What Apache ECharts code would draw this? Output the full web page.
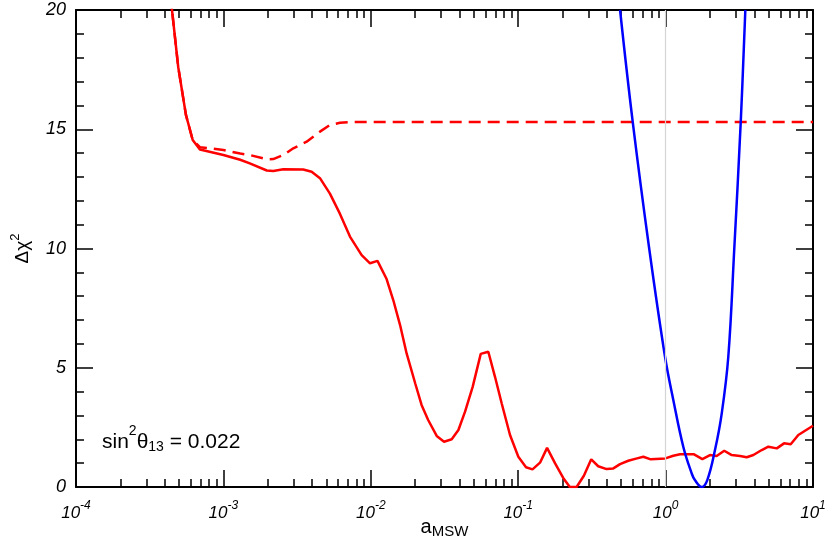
<!DOCTYPE html>
<html>
<head>
<meta charset="utf-8">
<script src="https://cdn.jsdelivr.net/npm/echarts@6/dist/echarts.min.js"></script>
<style>
html,body{margin:0;padding:0;background:#fff;}
#chart{width:830px;height:550px;}
</style>
</head>
<body>
<div id="chart"></div>
<script>
// ---- data (a_MSW, delta chi^2) ----
var aSolid = [3.95e-4, 4.48e-4, 4.94e-4, 5.57e-4, 6.19e-4, 6.93e-4, 1.0e-3, 1.3e-3, 1.51e-3, 1.97e-3, 2.18e-3, 2.55e-3, 3.48e-3, 3.97e-3, 4.52e-3, 5.28e-3, 6.18e-3, 7.22e-3, 8.67e-3, 9.88e-3, 1.11e-2, 1.28e-2, 1.42e-2, 1.58e-2, 1.75e-2, 2.0e-2, 2.21e-2, 2.45e-2, 2.80e-2, 3.14e-2, 3.54e-2, 3.93e-2, 4.36e-2, 4.91e-2, 5.57e-2, 6.27e-2, 6.96e-2, 7.73e-2, 8.80e-2, 0.1002, 0.113, 0.125, 0.1406, 0.157, 0.178, 0.202, 0.224, 0.249, 0.279, 0.313, 0.349, 0.398, 0.442, 0.491, 0.558, 0.64, 0.706, 0.793, 0.996, 1.128, 1.253, 1.559, 1.776, 2.0, 2.22, 2.50, 2.81, 3.20, 3.55, 3.94, 4.49, 4.98, 5.68, 6.36, 7.06, 7.95, 8.83, 10];
var chiSolid = [23, 20, 17.6, 15.6, 14.55, 14.15, 13.92, 13.72, 13.57, 13.27, 13.25, 13.32, 13.31, 13.22, 12.95, 12.3, 11.45, 10.5, 9.72, 9.38, 9.48, 8.72, 7.84, 6.79, 5.6, 4.35, 3.44, 2.81, 2.14, 1.9, 2.0, 2.39, 3.16, 4.2, 5.58, 5.67, 4.62, 3.5, 2.18, 1.27, 0.83, 0.74, 1.02, 1.64, 0.99, 0.38, 0.0, 0.0, 0.47, 1.16, 0.87, 0.75, 0.78, 0.96, 1.1, 1.2, 1.27, 1.16, 1.2, 1.31, 1.37, 1.37, 1.17, 1.34, 1.3, 1.52, 1.34, 1.3, 1.25, 1.34, 1.55, 1.69, 1.62, 1.83, 1.79, 2.18, 2.36, 2.57];

var aDashed = [3.95e-4, 4.48e-4, 4.94e-4, 5.57e-4, 6.19e-4, 6.93e-4, 1.0e-3, 1.3e-3, 1.51e-3, 1.97e-3, 2.18e-3, 2.55e-3, 2.98e-3, 3.67e-3, 4.52e-3, 5.28e-3, 6.18e-3, 7.22e-3, 10];
var chiDashed = [23, 20, 17.6, 15.6, 14.55, 14.25, 14.13, 13.98, 13.92, 13.74, 13.75, 13.92, 14.2, 14.48, 14.9, 15.18, 15.27, 15.3, 15.3];

var aBlue = [0.491, 0.598, 0.774, 0.991, 1.128, 1.318, 1.503, 1.58, 1.758, 1.918, 2.163, 2.404, 2.663, 2.924, 3.235, 3.475];
var chiBlue = [20, 15.32, 10.0, 5.46, 3.65, 1.69, 0.57, 0.29, 0.0, 0.29, 1.55, 3.09, 5.46, 10.0, 15.32, 20];

// ---- axes / labels ----
var xTickValues = [1e-4, 1e-3, 1e-2, 1e-1, 1, 10];
var xTickExponents = ['-4', '-3', '-2', '-1', '0', '1'];
var minorMantissas = [2, 3, 4, 5, 6, 7, 8, 9];
var decadeExponents = [-4, -3, -2, -1, 0];
var yTicks = [0, 5, 10, 15, 20];
var markerA = 1;
var annotation = { lhs: 'sin', sup: '2', theta: 'θ', sub: '13', rhs: ' = 0.022' };

function pairs(xs, ys) { return xs.map(function (x, i) { return [x, ys[i]]; }); }

var minorLogPositions = [];
decadeExponents.forEach(function (e) {
  minorMantissas.forEach(function (m) { minorLogPositions.push(e + Math.log10(m)); });
});

var FONT = '"Liberation Sans", Arial, Helvetica, sans-serif';

function majorX(pos, withLabels) {
  return {
    type: 'log', logBase: 10, position: pos, min: 1e-4, max: 10,
    axisLine: { show: true, onZero: false, lineStyle: { color: '#000', width: 2 } },
    axisTick: { show: true, inside: true, length: 17, lineStyle: { color: '#000', width: 1.5 } },
    minorTick: { show: false },
    splitLine: { show: false },
    axisLabel: withLabels ? {
      show: true, margin: 13, fontFamily: FONT,
      formatter: function (v) {
        var idx = -1;
        xTickValues.forEach(function (t, i) { if (Math.abs(Math.log10(v) - Math.log10(t)) < 1e-6) idx = i; });
        if (idx < 0) return '';
        return '{b|10}{s|' + xTickExponents[idx] + '}';
      },
      rich: {
        b: { fontSize: 17, fontStyle: 'italic', fontFamily: FONT, color: '#000', lineHeight: 20, padding: [6, 0, 0, 0] },
        s: { fontSize: 12, fontStyle: 'italic', fontFamily: FONT, color: '#000', lineHeight: 12, verticalAlign: 'top' }
      }
    } : { show: false }
  };
}
function minorX(pos) {
  return {
    type: 'value', position: pos, min: -4, max: 1,
    axisLine: { show: false, onZero: false },
    axisTick: { show: true, inside: true, length: 8, customValues: minorLogPositions, lineStyle: { color: '#000', width: 1.5 } },
    axisLabel: { show: false },
    splitLine: { show: false }
  };
}
function yAx(pos, withLabels) {
  return {
    type: 'value', position: pos, min: 0, max: 20, interval: 5,
    axisLine: { show: true, onZero: false, lineStyle: { color: '#000', width: 2 } },
    axisTick: { show: true, inside: true, length: 17, lineStyle: { color: '#000', width: 1.5 } },
    minorTick: { show: true, splitNumber: 5, length: 8, lineStyle: { color: '#000', width: 1.5 } },
    splitLine: { show: false },
    axisLabel: withLabels ? {
      show: true, margin: 10, fontSize: 18, fontStyle: 'italic', fontFamily: FONT, color: '#000',
      customValues: yTicks
    } : { show: false }
  };
}

var xName = majorX('bottom', true);
xName.name = '{a|a}{s|MSW}';
xName.nameLocation = 'middle';
xName.nameGap = 30;
xName.nameMoveOverlap = false;
xName.nameTextStyle = {
  rich: {
    a: { fontSize: 20, fontFamily: FONT, color: '#000', lineHeight: 22, padding: [0, 0, 2, 0], verticalAlign: 'top' },
    s: { fontSize: 15, fontFamily: FONT, color: '#000', lineHeight: 14, verticalAlign: 'bottom' }
  }
};

var yLeft = yAx('left', true);
yLeft.name = '{b|Δχ}{s|2}';
yLeft.nameLocation = 'middle';
yLeft.nameGap = 45;
yLeft.nameMoveOverlap = false;
yLeft.nameTextStyle = {
  rich: {
    b: { fontSize: 19, fontFamily: FONT, color: '#000', lineHeight: 22, padding: [6, 0, 0, 0] },
    s: { fontSize: 13, fontFamily: FONT, color: '#000', lineHeight: 12, verticalAlign: 'top' }
  }
};

var option = {
  animation: false,
  backgroundColor: '#fff',
  grid: { left: 76, right: 17, top: 10, bottom: 63, show: false, containLabel: false, outerBoundsMode: 'none' },
  xAxis: [xName, majorX('top', false), minorX('bottom'), minorX('top')],
  yAxis: [yLeft, yAx('right', false)],
  graphic: [{
    type: 'text', left: 102, top: 424, z: 100,
    style: {
      text: '{n|' + annotation.lhs + '}{p|' + annotation.sup + '}{n|' + annotation.theta + '}{d|' + annotation.sub + '}{n|' + annotation.rhs + '}',
      rich: {
        n: { fontSize: 21, fontFamily: FONT, fill: '#000', lineHeight: 30, padding: [6, 0, 0, 0] },
        p: { fontSize: 14, fontFamily: FONT, fill: '#000', lineHeight: 14, verticalAlign: 'top' },
        d: { fontSize: 14, fontFamily: FONT, fill: '#000', lineHeight: 14, verticalAlign: 'bottom' }
      }
    }
  }],
  series: [
    {
      type: 'line', xAxisIndex: 0, yAxisIndex: 0, data: [], z: 1, silent: true,
      markLine: {
        silent: true, symbol: ['none', 'none'], label: { show: false },
        lineStyle: { color: '#d4d4d4', width: 1.2, type: 'solid' },
        emphasis: { disabled: true },
        data: [{ xAxis: markerA }]
      }
    },
    {
      type: 'line', xAxisIndex: 0, yAxisIndex: 0, z: 3, data: pairs(aSolid, chiSolid),
      showSymbol: false, smooth: false, clip: true,
      lineStyle: { color: '#ff0000', width: 2.5 }
    },
    {
      type: 'line', xAxisIndex: 0, yAxisIndex: 0, z: 3, data: pairs(aDashed, chiDashed),
      showSymbol: false, smooth: false, clip: true,
      lineStyle: { color: '#ff0000', width: 2.5, type: [12, 7] }
    },
    {
      type: 'line', xAxisIndex: 0, yAxisIndex: 0, z: 4, data: pairs(aBlue, chiBlue),
      showSymbol: false, smooth: 0.4, clip: true,
      lineStyle: { color: '#0000ff', width: 2.5 }
    }
  ]
};

var chart = echarts.init(document.getElementById('chart'), null, { renderer: 'canvas' });
chart.setOption(option);
</script>
</body>
</html>
